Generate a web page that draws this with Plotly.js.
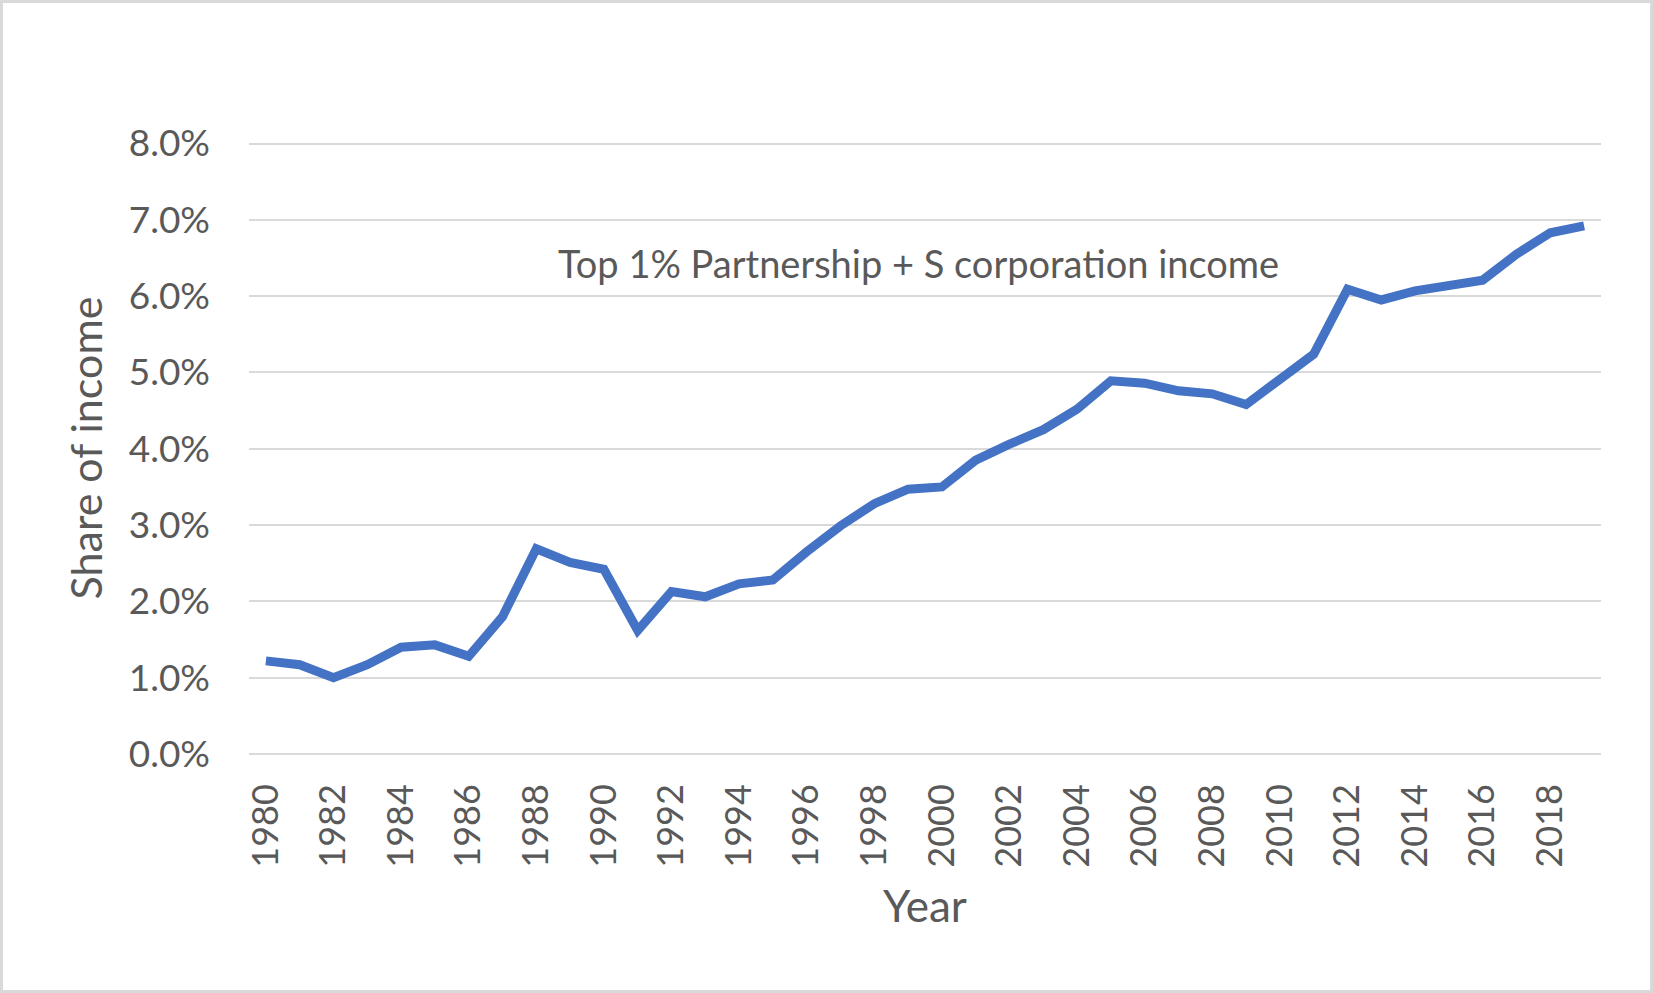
<!DOCTYPE html>
<html>
<head>
<meta charset="utf-8">
<script src="https://cdn.plot.ly/plotly-3.0.1.min.js"></script>
<style>
  html, body { margin: 0; padding: 0; background: #fff; }
  #wrap { position: relative; width: 1653px; height: 993px; }
  #chart { width: 1653px; height: 993px; }
  #frame { position: absolute; left: 0; top: 0; width: 1653px; height: 993px; box-sizing: border-box; border: 3px solid #D9D9D9; pointer-events: none; }
</style>
</head>
<body>
<div id="wrap"><div id="chart"></div><div id="frame"></div></div>
<script>
const years = ["1980","1981","1982","1983","1984","1985","1986","1987","1988","1989",
               "1990","1991","1992","1993","1994","1995","1996","1997","1998","1999",
               "2000","2001","2002","2003","2004","2005","2006","2007","2008","2009",
               "2010","2011","2012","2013","2014","2015","2016","2017","2018","2019"];
const share = [1.22, 1.17, 1.00, 1.17, 1.40, 1.43, 1.28, 1.80, 2.69, 2.51,
               2.42, 1.62, 2.13, 2.06, 2.23, 2.28, 2.65, 2.99, 3.28, 3.47,
               3.50, 3.85, 4.06, 4.25, 4.52, 4.89, 4.86, 4.76, 4.72, 4.58,
               4.91, 5.24, 6.09, 5.95, 6.07, 6.13, 6.21, 6.55, 6.83, 6.92];
const xTickLabels = ["1980","1982","1984","1986","1988","1990","1992","1994","1996","1998",
                     "2000","2002","2004","2006","2008","2010","2012","2014","2016","2018"];
const yTickVals = [0, 1, 2, 3, 4, 5, 6, 7, 8];
const yTickText = ["0.0%","1.0%","2.0%","3.0%","4.0%","5.0%","6.0%","7.0%","8.0%"];
const seriesLabel = "Top 1% Partnership + S corporation income";

const textColor = "#595959";
const fontFam = "Lato, 'Open Sans', sans-serif";

const trace = {
  x: years,
  y: share,
  type: "scatter",
  mode: "lines",
  line: { color: "#4472C4", width: 9, shape: "linear" },
  hoverinfo: "x+y",
  showlegend: false
};

const layout = {
  width: 1653,
  height: 993,
  paper_bgcolor: "#ffffff",
  plot_bgcolor: "#ffffff",
  margin: { l: 249, r: 52, t: 141.9, b: 238.5, pad: 0 },
  font: { family: fontFam, color: textColor, size: 37 },
  xaxis: {
    type: "category",
    range: [-0.5, years.length - 0.5],
    tickmode: "array",
    tickvals: xTickLabels,
    ticktext: xTickLabels,
    tickangle: -90,
    ticks: "",
    showgrid: false,
    showline: false,
    zeroline: false,
    ticklabelstandoff: 22,
    tickfont: { family: fontFam, size: 36, color: textColor },
    title: { text: "Year", font: { family: fontFam, size: 44, color: textColor }, standoff: 24 },
    automargin: false,
    fixedrange: true
  },
  yaxis: {
    range: [0, 8.02],
    tickmode: "array",
    tickvals: yTickVals,
    ticktext: yTickText,
    ticks: "",
    showgrid: true,
    gridcolor: "#D9D9D9",
    gridwidth: 2,
    zeroline: true,
    zerolinecolor: "#D9D9D9",
    zerolinewidth: 2,
    showline: false,
    ticklabelstandoff: 38,
    tickfont: { family: fontFam, size: 37, color: textColor },
    title: { text: "Share of income", font: { family: fontFam, size: 43, color: textColor }, standoff: 12 },
    automargin: false,
    fixedrange: true
  },
  annotations: [{
    text: seriesLabel,
    xref: "paper",
    x: 0.495,
    yref: "y",
    y: 6.43,
    showarrow: false,
    xanchor: "center",
    yanchor: "middle",
    font: { family: fontFam, size: 38, color: textColor }
  }]
};

Plotly.newPlot("chart", [trace], layout, { displayModeBar: false, staticPlot: true });
</script>
</body>
</html>
